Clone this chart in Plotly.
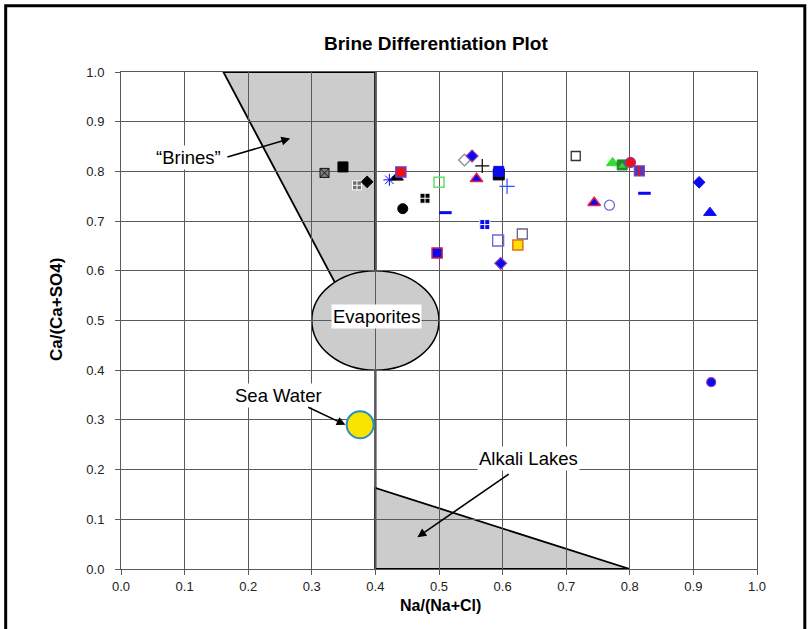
import plotly.graph_objects as go

# ---------------- data ----------------
sample_ids = [
    "S1", "S2", "S3", "S4", "S5", "S6", "S7", "S8", "S9", "S10",
    "S11", "S12", "S13", "S14", "S15", "S16", "S17a", "S17b", "S18", "S19",
    "S20", "S21", "S22", "S23", "S24", "S25", "S26a", "S26b", "S27", "S28a",
    "S28b", "S29", "S30", "S31", "S32", "S33", "S34",
]
na_ratio = [
    0.320, 0.349, 0.371, 0.387, 0.422, 0.434, 0.440, 0.443, 0.478, 0.500,
    0.510, 0.497, 0.540, 0.552, 0.568, 0.559, 0.594, 0.594, 0.607, 0.572,
    0.593, 0.631, 0.624, 0.597, 0.715, 0.773, 0.788, 0.788, 0.801, 0.815,
    0.815, 0.823, 0.744, 0.768, 0.909, 0.926, 0.928,
]
ca_ratio = [
    0.797, 0.809, 0.772, 0.779, 0.783, 0.788, 0.799, 0.725, 0.746, 0.778,
    0.717, 0.636, 0.823, 0.831, 0.811, 0.785, 0.794, 0.800, 0.770, 0.693,
    0.661, 0.674, 0.652, 0.615, 0.831, 0.817, 0.813, 0.811, 0.818, 0.801,
    0.801, 0.756, 0.737, 0.732, 0.778, 0.717, 0.376,
]

sea_water_na = [0.376]
sea_water_ca = [0.290]

# field boundaries (data units)
brines_x = [0.161, 0.400, 0.400, 0.368]
brines_y = [1.000, 1.000, 0.500, 0.500]
alkali_x = [0.400, 0.400, 0.800]
alkali_y = [0.000, 0.163, 0.000]
evap_x_range = [0.300, 0.500]
evap_y_range = [0.400, 0.600]
divide_x = 0.400

x_ticks = [0.0, 0.1, 0.2, 0.3, 0.4, 0.5, 0.6, 0.7, 0.8, 0.9, 1.0]
y_ticks = [0.0, 0.1, 0.2, 0.3, 0.4, 0.5, 0.6, 0.7, 0.8, 0.9, 1.0]

# ---------------- styles (per sample, not data) ----------------
BLUE = "#0a0af0"
PURP = "#9933aa"
RED = "#ee1111"
styles = [
    ("square-x", 9, "#808080", "#111111", 1),
    ("square", 10, "#000000", "#000000", 1),
    ("square-cross", 9, "#707070", "#ffffff", 1),
    ("diamond", 9, "#000000", "#000000", 1),
    ("asterisk-open", 10, BLUE, "#4060ff", 1),
    ("triangle-up", 11, "#000000", "#000000", 1),
    ("square", 10, RED, "#6a3ad0", 1.5),
    ("circle", 10, "#000000", "#000000", 1),
    ("square-cross", 10, "#000000", "#ffffff", 1),
    ("square-open", 10, "#66dd66", "#66dd66", 1.5),
    ("line-ew", 9, BLUE, BLUE, 3),
    ("square", 10, BLUE, "#cc2244", 1.5),
    ("diamond-open", 9, "#888888", "#888888", 1.2),
    ("diamond", 9, BLUE, PURP, 1.2),
    ("cross-thin", 10, "#000000", "#000000", 1.2),
    ("triangle-up", 11, BLUE, "#ee2244", 1.5),
    ("square", 11, "#000000", "#000000", 1),
    ("square", 10, BLUE, BLUE, 1),
    ("cross-thin", 11, BLUE, "#3050ff", 1.2),
    ("square-cross", 10, BLUE, "#ffffff", 1),
    ("square-open", 11, "#6a6ad8", "#6a6ad8", 1.3),
    ("square-open", 10, "#666688", "#666688", 1.3),
    ("square", 10, "#ffe000", "#e07020", 1.5),
    ("diamond", 9, BLUE, PURP, 1.2),
    ("square-open", 9, "#333333", "#333333", 1.3),
    ("triangle-up", 11, "#33dd33", "#33dd33", 1),
    ("square", 10, "#1f8a2a", "#1f8a2a", 1),
    ("triangle-up", 6, "#44cc44", "#44cc44", 0.5),
    ("circle", 10, RED, PURP, 1.2),
    ("square", 10, "#4040c8", PURP, 1.2),
    ("line-ns", 7, RED, RED, 2),
    ("line-ew", 9, BLUE, BLUE, 3),
    ("triangle-up", 11, BLUE, "#ee2244", 1.5),
    ("circle-open", 10, "#6a6ad8", "#6a6ad8", 1.3),
    ("diamond", 9, BLUE, BLUE, 1),
    ("triangle-up", 11, BLUE, BLUE, 1),
    ("circle", 9, BLUE, PURP, 1.2),
]

FONT = "Arial, Liberation Sans, sans-serif"
GRID = "#5a5a5a"
FILL = "#cccccc"

fig = go.Figure()

fig.add_trace(go.Scatter(
    x=na_ratio, y=ca_ratio, mode="markers", text=sample_ids,
    hoverinfo="text+x+y",
    marker=dict(
        symbol=[s[0] for s in styles],
        size=[s[1] for s in styles],
        color=[s[2] for s in styles],
        opacity=1,
        line=dict(color=[s[3] for s in styles], width=[s[4] for s in styles]),
    ),
    showlegend=False,
))

fig.add_trace(go.Scatter(
    x=sea_water_na, y=sea_water_ca, mode="markers",
    marker=dict(symbol="circle", size=27, color="#f7e400", opacity=1,
                line=dict(color="#2a8fc0", width=2)),
    showlegend=False, hoverinfo="x+y",
))

def poly_path(xs, ys):
    p = "M %g,%g " % (xs[0], ys[0])
    for a, b in zip(xs[1:], ys[1:]):
        p += "L %g,%g " % (a, b)
    return p + "Z"

shapes = [
    dict(type="path", path=poly_path(brines_x, brines_y), xref="x", yref="y",
         fillcolor=FILL, line=dict(color="#000000", width=1.8), layer="below"),
    dict(type="line", x0=divide_x, x1=divide_x, y0=0, y1=1, xref="x", yref="y",
         line=dict(color="#000000", width=2), layer="below"),
    dict(type="path", path=poly_path(alkali_x, alkali_y), xref="x", yref="y",
         fillcolor=FILL, line=dict(color="#000000", width=1.8), layer="below"),
    dict(type="circle", x0=evap_x_range[0], x1=evap_x_range[1],
         y0=evap_y_range[0], y1=evap_y_range[1], xref="x", yref="y",
         fillcolor=FILL, line=dict(color="#000000", width=1.5), layer="below"),
]

# outer frame (pixels converted to paper coords)
L, R, T, B = 120.8, 51.3, 72.3, 60.0
W, H = 808, 629
pw, ph = W - L - R, H - T - B
def px(xp):
    return (xp - L) / pw
def py(yp):
    return (H - B - yp) / ph
shapes.append(dict(type="rect", xref="paper", yref="paper",
                   x0=px(5.5), x1=px(804.5), y0=py(640), y1=py(6),
                   line=dict(color="#000000", width=3), layer="above"))

label_font = dict(family=FONT, size=18.5, color="#000000")
annotations = [
    dict(text="Brine Differentiation Plot", xref="paper", yref="paper",
         x=px(436), y=py(44), showarrow=False, xanchor="center", yanchor="middle",
         font=dict(family=FONT, size=19, color="#000000", weight="bold")),
    dict(text="Na/(Na+Cl)", xref="paper", yref="paper",
         x=px(440), y=py(605), showarrow=False, xanchor="center", yanchor="middle",
         font=dict(family=FONT, size=16, color="#000000", weight="bold")),
    dict(text="Ca/(Ca+SO4)", xref="paper", yref="paper",
         x=px(57), y=py(310), showarrow=False, textangle=-90,
         xanchor="center", yanchor="middle",
         font=dict(family=FONT, size=17, color="#000000", weight="bold")),
    # labels
    dict(text="\u201cBrines\u201d", x=0.106, y=0.828, xref="x", yref="y",
         showarrow=False, bgcolor="#ffffff", font=label_font),
    dict(text="Evaporites", x=0.401, y=0.508, xref="x", yref="y",
         showarrow=False, bgcolor="#ffffff", font=label_font),
    dict(text="Sea Water", x=0.248, y=0.350, xref="x", yref="y",
         showarrow=False, bgcolor="#ffffff", font=label_font),
    dict(text="Alkali Lakes", x=0.640, y=0.223, xref="x", yref="y",
         showarrow=False, bgcolor="#ffffff", font=label_font),
    # arrows
    dict(text="", x=0.266, y=0.866, ax=0.165, ay=0.828, xref="x", yref="y",
         axref="x", ayref="y", showarrow=True, arrowhead=2, arrowsize=1.1,
         arrowwidth=1.6, arrowcolor="#000000"),
    dict(text="", x=0.353, y=0.290, ax=0.292, ay=0.327, xref="x", yref="y",
         axref="x", ayref="y", showarrow=True, arrowhead=2, arrowsize=1.1,
         arrowwidth=1.6, arrowcolor="#000000"),
    dict(text="", x=0.466, y=0.064, ax=0.612, ay=0.193, xref="x", yref="y",
         axref="x", ayref="y", showarrow=True, arrowhead=2, arrowsize=1.1,
         arrowwidth=1.6, arrowcolor="#000000"),
]

axis_common = dict(
    range=[0, 1], showgrid=True, gridcolor=GRID, gridwidth=1,
    showline=True, linecolor=GRID, linewidth=1, mirror=True,
    ticks="outside", ticklen=5, tickcolor=GRID, zeroline=False,
    tickfont=dict(family=FONT, size=13, color="#222222"),
    tickformat=".1f", fixedrange=True,
)

fig.update_layout(
    width=W, height=H,
    margin=dict(l=L, r=R, t=T, b=B, pad=0),
    paper_bgcolor="#ffffff", plot_bgcolor="#ffffff",
    xaxis=dict(axis_common, tickvals=x_ticks, ticklabelstandoff=0),
    yaxis=dict(axis_common, tickvals=y_ticks, ticklabelstandoff=8),
    shapes=shapes, annotations=annotations,
    showlegend=False,
)

fig.write_html(
    "out.html",
    config={"displayModeBar": False},
    post_script="document.body.style.margin='0';document.body.style.overflow='hidden';",
)
